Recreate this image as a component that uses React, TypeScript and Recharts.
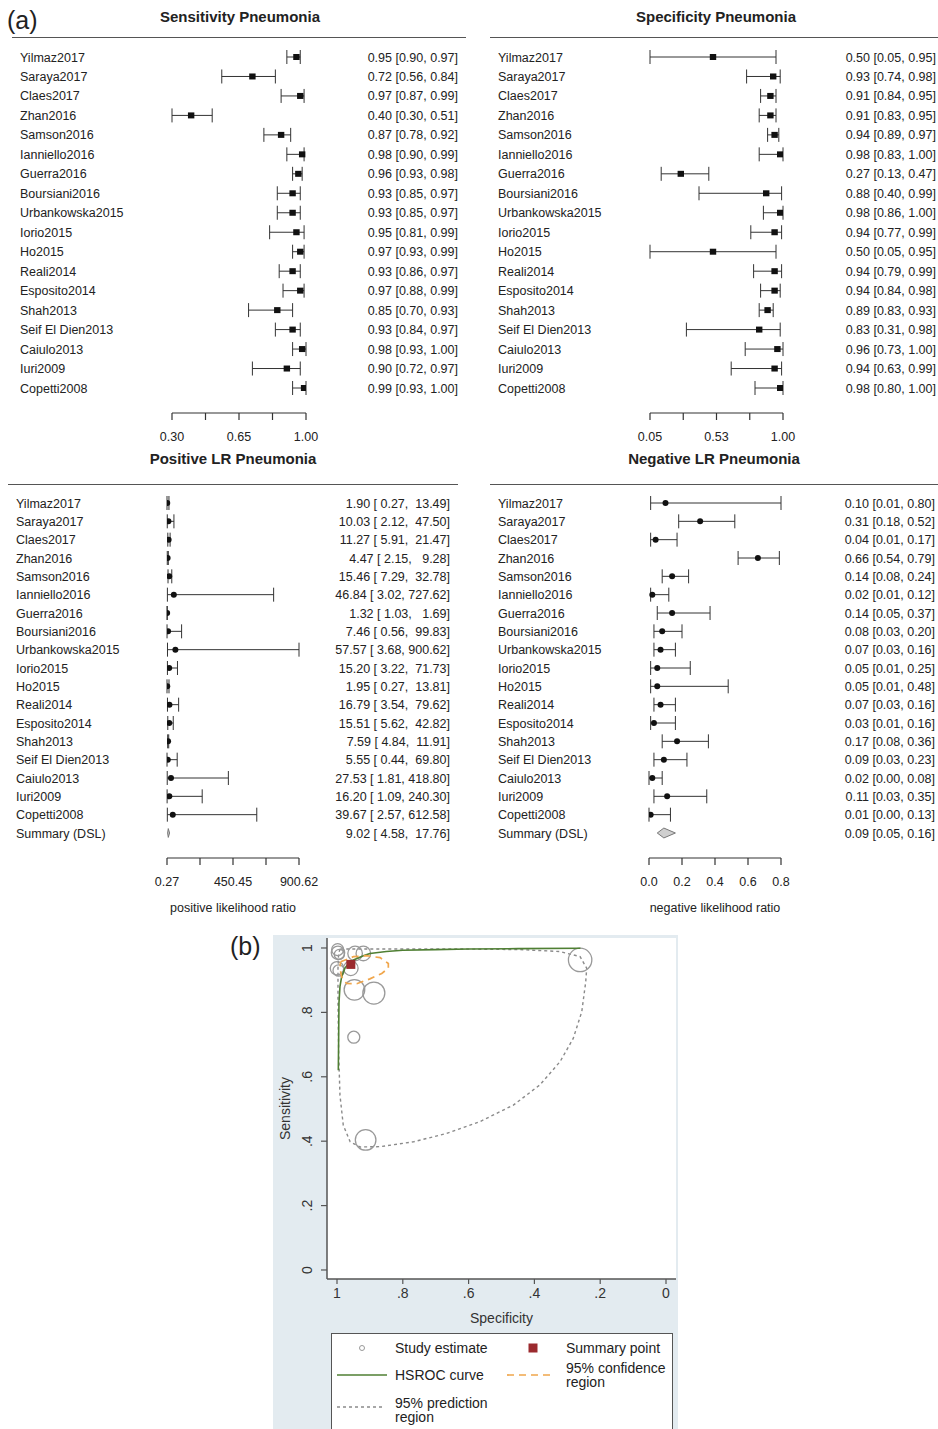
import React from 'react'
import { ScatterChart, Scatter, XAxis, YAxis, ZAxis, ErrorBar, CartesianGrid, Label } from 'recharts'

const FONT = '"Liberation Sans", Arial, Helvetica, sans-serif'
const INK = '#222'

// ---------- forest plots (panel a) ----------
const studies = [
  'Yilmaz2017', 'Saraya2017', 'Claes2017', 'Zhan2016', 'Samson2016', 'Ianniello2016',
  'Guerra2016', 'Boursiani2016', 'Urbankowska2015', 'Iorio2015', 'Ho2015', 'Reali2014',
  'Esposito2014', 'Shah2013', 'Seif El Dien2013', 'Caiulo2013', 'Iuri2009', 'Copetti2008',
]

const sensEst = [0.95, 0.72, 0.97, 0.40, 0.87, 0.98, 0.96, 0.93, 0.93, 0.95, 0.97, 0.93, 0.97, 0.85, 0.93, 0.98, 0.90, 0.99]
const sensLo = [0.90, 0.56, 0.87, 0.30, 0.78, 0.90, 0.93, 0.85, 0.85, 0.81, 0.93, 0.86, 0.88, 0.70, 0.84, 0.93, 0.72, 0.93]
const sensHi = [0.97, 0.84, 0.99, 0.51, 0.92, 0.99, 0.98, 0.97, 0.97, 0.99, 0.99, 0.97, 0.99, 0.93, 0.97, 1.00, 0.97, 1.00]

const specEst = [0.50, 0.93, 0.91, 0.91, 0.94, 0.98, 0.27, 0.88, 0.98, 0.94, 0.50, 0.94, 0.94, 0.89, 0.83, 0.96, 0.94, 0.98]
const specLo = [0.05, 0.74, 0.84, 0.83, 0.89, 0.83, 0.13, 0.40, 0.86, 0.77, 0.05, 0.79, 0.84, 0.83, 0.31, 0.73, 0.63, 0.80]
const specHi = [0.95, 0.98, 0.95, 0.95, 0.97, 1.00, 0.47, 0.99, 1.00, 0.99, 0.95, 0.99, 0.98, 0.93, 0.98, 1.00, 0.99, 1.00]

const posEst = [1.90, 10.03, 11.27, 4.47, 15.46, 46.84, 1.32, 7.46, 57.57, 15.20, 1.95, 16.79, 15.51, 7.59, 5.55, 27.53, 16.20, 39.67]
const posLo = [0.27, 2.12, 5.91, 2.15, 7.29, 3.02, 1.03, 0.56, 3.68, 3.22, 0.27, 3.54, 5.62, 4.84, 0.44, 1.81, 1.09, 2.57]
const posHi = [13.49, 47.50, 21.47, 9.28, 32.78, 727.62, 1.69, 99.83, 900.62, 71.73, 13.81, 79.62, 42.82, 11.91, 69.80, 418.80, 240.30, 612.58]
const posSummary = [9.02, 4.58, 17.76] // est, lo, hi

const negEst = [0.10, 0.31, 0.04, 0.66, 0.14, 0.02, 0.14, 0.08, 0.07, 0.05, 0.05, 0.07, 0.03, 0.17, 0.09, 0.02, 0.11, 0.01]
const negLo = [0.01, 0.18, 0.01, 0.54, 0.08, 0.01, 0.05, 0.03, 0.03, 0.01, 0.01, 0.03, 0.01, 0.08, 0.03, 0.00, 0.03, 0.00]
const negHi = [0.80, 0.52, 0.17, 0.79, 0.24, 0.12, 0.37, 0.20, 0.16, 0.25, 0.48, 0.16, 0.16, 0.36, 0.23, 0.08, 0.35, 0.13]
const negSummary = [0.09, 0.05, 0.16]

const summaryName = 'Summary (DSL)'

const sensTicks = [0.30, 0.475, 0.65, 0.825, 1.00]
const sensTickLabels = ['0.30', '', '0.65', '', '1.00']
const specTicks = [0.05, 0.2875, 0.525, 0.7625, 1.00]
const specTickLabels = ['0.05', '', '0.53', '', '1.00']
const posTicks = [0.27, 225.36, 450.45, 675.53, 900.62]
const posTickLabels = ['0.27', '', '450.45', '', '900.62']
const negTicks = [0, 0.2, 0.4, 0.6, 0.8]
const negTickLabels = ['0.0', '0.2', '0.4', '0.6', '0.8']

// ---------- SROC plot (panel b) ----------
const srocTicks = [0, 0.2, 0.4, 0.6, 0.8, 1]
const srocTickLabels = ['0', '.2', '.4', '.6', '.8', '1']

const studySpec = [0.998, 0.997, 0.993, 0.945, 0.92, 1.0, 0.995, 0.958, 0.947, 0.888, 0.949, 0.261, 0.913]
const studySens = [0.995, 0.985, 0.98, 0.983, 0.983, 0.937, 0.93, 0.937, 0.87, 0.86, 0.723, 0.963, 0.404]
const studyWeight = [36, 45, 25, 53, 53, 45, 32, 53, 106, 121, 36, 137, 106]

const summarySpec = [0.958]
const summarySens = [0.949]

const hsrocSpec = [0.996, 0.995, 0.994, 0.991, 0.986, 0.976, 0.962, 0.95, 0.92, 0.9, 0.85, 0.8, 0.7, 0.6, 0.45, 0.26]
const hsrocSens = [0.62, 0.72, 0.83, 0.88, 0.91, 0.937, 0.955, 0.963, 0.976, 0.983, 0.989, 0.993, 0.995, 0.997, 0.998, 0.999]

const confSpec = [0.989, 0.95, 0.91, 0.869, 0.844, 0.844, 0.864, 0.9, 0.94, 0.971, 0.986, 0.991, 0.989]
const confSens = [0.957, 0.973, 0.976, 0.97, 0.952, 0.937, 0.921, 0.904, 0.889, 0.89, 0.911, 0.937, 0.957]

const predSpec = [0.99, 0.849, 0.646, 0.444, 0.322, 0.261, 0.241, 0.244, 0.256, 0.282, 0.322, 0.383, 0.464, 0.565, 0.667, 0.768, 0.869, 0.93, 0.96, 0.981, 0.991, 0.995, 0.997, 0.997, 0.995, 0.99]
const predSens = [0.997, 0.997, 0.997, 0.995, 0.989, 0.973, 0.937, 0.895, 0.802, 0.719, 0.647, 0.575, 0.512, 0.461, 0.424, 0.398, 0.383, 0.382, 0.398, 0.45, 0.543, 0.678, 0.833, 0.937, 0.985, 0.997]

type Row = { row: number; est: number; err: [number, number] }

const toRows = (est: number[], lo: number[], hi: number[]): Row[] =>
  est.map((e, i) => ({ row: i, est: e, err: [e - lo[i], hi[i] - e] }))

// diamond outline for a pooled estimate, closed path through lo-est-hi
const diamond = (s: number[], row: number, half: number) => [
  { est: s[1], row },
  { est: s[0], row: row - half },
  { est: s[2], row },
  { est: s[0], row: row + half },
  { est: s[1], row },
]

const f2 = (v: number) => v.toFixed(2)
const ciPlain = (e: number, l: number, h: number) => `${f2(e)} [${f2(l)}, ${f2(h)}]`
const ciPadded = (e: number, l: number, h: number) => `${f2(e)} [${f2(l).padStart(5)}, ${f2(h).padStart(6)}]`

const zip = (xs: number[], ys: number[]) => xs.map((x, i) => ({ spec: x, sens: ys[i] }))

type ForestProps = {
  left: number; top: number; width: number; height: number
  plotLeft: number; plotRight: number; plotTop: number; plotBottom: number
  firstRowY: number; rowStep: number
  nameX: number; ciX: number
  names: string[]; ci: string[]
  rows: Row[]; summary?: { est: number; row: number }[]
  domain: [number, number]; ticks: number[]; tickLabels: string[]
  marker: 'square' | 'circle'
  xLabel?: string
}

function ForestPlot(p: ForestProps) {
  const yDomain: [number, number] = [(p.plotTop - p.firstRowY) / p.rowStep, (p.plotBottom - p.firstRowY) / p.rowStep]
  const rowTicks = p.names.map((_, i) => i)

  const RowTick = (t: any) => {
    const i = t.payload.value
    return (
      <g>
        <text x={p.nameX - p.left} y={t.y} dy={4.5} fontSize={12.5} fill={INK} fontFamily={FONT}>{p.names[i]}</text>
        <text x={p.ciX - p.left} y={t.y} dy={4.5} fontSize={12.5} fill={INK} fontFamily={FONT}
          textAnchor="end" xmlSpace="preserve" style={{ whiteSpace: 'pre' }}>{p.ci[i]}</text>
      </g>
    )
  }

  const markerShape = (s: any) =>
    p.marker === 'square'
      ? <rect x={s.cx - 3.2} y={s.cy - 3} width={6.4} height={6} fill="#111" />
      : <circle cx={s.cx} cy={s.cy} r={3} fill="#111" />

  return (
    <div style={{ position: 'absolute', left: p.left, top: p.top }}>
      <ScatterChart
        width={p.width}
        height={p.height}
        margin={{ top: p.plotTop - p.top, right: p.left + p.width - p.plotRight, bottom: 0, left: 0 }}
      >
        <XAxis
          type="number" dataKey="est" domain={p.domain} ticks={p.ticks} allowDataOverflow interval={0}
          height={p.top + p.height - p.plotBottom} tickSize={7} tickMargin={12}
          axisLine={{ stroke: '#333', strokeWidth: 1.2 }} tickLine={{ stroke: '#333', strokeWidth: 1.2 }}
          tick={{ fill: INK, fontSize: 12.5, fontFamily: FONT }}
          tickFormatter={(v: number) => p.tickLabels[p.ticks.indexOf(v)] ?? ''}
        >
          {p.xLabel && (
            <Label value={p.xLabel} position="insideBottom" offset={8}
              style={{ fill: INK, fontSize: 12.5, fontFamily: FONT }} />
          )}
        </XAxis>
        <YAxis
          type="number" dataKey="row" domain={yDomain} reversed ticks={rowTicks} interval={0} allowDataOverflow
          width={p.plotLeft - p.left} axisLine={false} tickLine={false} tick={RowTick}
        />
        <Scatter data={p.rows} fill="#111" shape={markerShape} isAnimationActive={false}>
          <ErrorBar dataKey="err" direction="x" width={7} stroke="#333" strokeWidth={1} />
        </Scatter>
        {p.summary && (
          <Scatter
            data={p.summary}
            line={{ stroke: '#777', strokeWidth: 1, fill: '#cfcfcf' }}
            lineType="joint"
            shape={() => <g />}
            isAnimationActive={false}
          />
        )}
      </ScatterChart>
    </div>
  )
}

const Title = ({ text, cx, cy }: { text: string; cx: number; cy: number }) => (
  <div style={{
    position: 'absolute', left: cx - 200, width: 400, top: cy - 10, lineHeight: '20px',
    textAlign: 'center', fontSize: 15, fontWeight: 700, color: INK,
  }}>{text}</div>
)

const Rule = ({ x1, x2, y }: { x1: number; x2: number; y: number }) => (
  <div style={{ position: 'absolute', left: x1, top: y - 1, width: x2 - x1, height: 0, borderTop: '1.5px solid #555' }} />
)

function RotTick(t: any) {
  const label = srocTickLabels[srocTicks.indexOf(t.payload.value)] ?? ''
  return (
    <text x={t.x} y={t.y} transform={`rotate(-90, ${t.x}, ${t.y})`} textAnchor="middle"
      fontSize={14} fill="#333" fontFamily={FONT}>{label}</text>
  )
}

function SrocPanel() {
  const L = 273, T = 935, W = 405, H = 494
  const studies = studySpec.map((s, i) => ({ spec: s, sens: studySens[i], w: studyWeight[i] }))
  return (
    <div style={{ position: 'absolute', left: L, top: T, width: W, height: H, background: '#e3ebf0' }}>
      <ScatterChart width={W} height={H} margin={{ top: 3, right: 2, left: 0, bottom: 100 }}>
        <CartesianGrid horizontal={false} vertical={false} fill="#ffffff" />
        <XAxis
          type="number" dataKey="spec" domain={[-0.0304, 1.0304]} reversed ticks={srocTicks} interval={0}
          allowDataOverflow height={50} tickSize={5} tickMargin={4}
          axisLine={{ stroke: '#555', strokeWidth: 1.5 }} tickLine={{ stroke: '#555', strokeWidth: 1.2 }}
          tick={{ fill: '#333', fontSize: 14, fontFamily: FONT }}
          tickFormatter={(v: number) => srocTickLabels[srocTicks.indexOf(v)] ?? ''}
        >
          <Label value="Specificity" position="insideBottom" offset={6}
            style={{ fill: '#333', fontSize: 14, fontFamily: FONT }} />
        </XAxis>
        <YAxis
          type="number" dataKey="sens" domain={[-0.028, 1.031]} ticks={srocTicks} interval={0}
          allowDataOverflow width={54} tickSize={6} tickMargin={9}
          axisLine={{ stroke: '#555', strokeWidth: 1.5 }} tickLine={{ stroke: '#555', strokeWidth: 1.2 }}
          tick={RotTick}
        >
          <Label value="Sensitivity" angle={-90} position="insideLeft" offset={12}
            style={{ fill: '#333', fontSize: 14, fontFamily: FONT, textAnchor: 'middle' }} />
        </YAxis>
        <ZAxis type="number" dataKey="w" domain={[0, 200]} range={[0, 628]} />
        <Scatter
          data={zip(predSpec, predSens)}
          line={{ stroke: '#8a8a8a', strokeWidth: 1.4, strokeDasharray: '3 3' }}
          lineType="joint" shape={() => <g />} isAnimationActive={false}
        />
        <Scatter data={studies} shape="circle" fill="none" stroke="#999" strokeWidth={1.3} isAnimationActive={false} />
        <Scatter
          data={zip(hsrocSpec, hsrocSens)}
          line={{ stroke: '#4f7f33', strokeWidth: 1.6 }}
          lineType="joint" shape={() => <g />} isAnimationActive={false}
        />
        <Scatter
          data={zip(confSpec, confSens)}
          line={{ stroke: '#f0a64c', strokeWidth: 1.7, strokeDasharray: '7 5' }}
          lineType="joint" shape={() => <g />} isAnimationActive={false}
        />
        <Scatter
          data={zip(summarySpec, summarySens)}
          shape={(s: any) => <rect x={s.cx - 4.5} y={s.cy - 4.5} width={9} height={9} fill="#9b2a2e" />}
          isAnimationActive={false}
        />
      </ScatterChart>
    </div>
  )
}

function SrocLegend() {
  const txt = { fontSize: 14, fill: '#222', fontFamily: FONT }
  return (
    <svg style={{ position: 'absolute', left: 331, top: 1333 }} width={342} height={110}>
      <rect x={0.5} y={0.5} width={341} height={120} fill="#fff" stroke="#555" strokeWidth={1} />
      <circle cx={31} cy={15} r={2.5} fill="none" stroke="#999" strokeWidth={1} />
      <text x={64} y={20} {...txt}>Study estimate</text>
      <rect x={197.5} y={10.5} width={9} height={9} fill="#9b2a2e" />
      <text x={235} y={20} {...txt}>Summary point</text>
      <line x1={6} x2={56} y1={42} y2={42} stroke="#4f7f33" strokeWidth={1.6} />
      <text x={64} y={47} {...txt}>HSROC curve</text>
      <line x1={176} x2={222} y1={42} y2={42} stroke="#f0a64c" strokeWidth={1.7} strokeDasharray="7 5" />
      <text x={235} y={40} {...txt}>95% confidence</text>
      <text x={235} y={54} {...txt}>region</text>
      <line x1={6} x2={54} y1={74} y2={74} stroke="#8a8a8a" strokeWidth={1.3} strokeDasharray="3 3" />
      <text x={64} y={75} {...txt}>95% prediction</text>
      <text x={64} y={89} {...txt}>region</text>
    </svg>
  )
}

export default function App() {
  const sensCi = sensEst.map((e, i) => ciPlain(e, sensLo[i], sensHi[i]))
  const specCi = specEst.map((e, i) => ciPlain(e, specLo[i], specHi[i]))
  const posCi = [...posEst.map((e, i) => ciPadded(e, posLo[i], posHi[i])), ciPadded(posSummary[0], posSummary[1], posSummary[2])]
  const negCi = [...negEst.map((e, i) => ciPlain(e, negLo[i], negHi[i])), ciPlain(negSummary[0], negSummary[1], negSummary[2])]
  const lrNames = [...studies, summaryName]
  const sumRow = studies.length

  const topRows = { firstRowY: 57, rowStep: (388 - 57) / 17, plotTop: 38, plotBottom: 413 }
  const lrRows = { firstRowY: 503, rowStep: (833 - 503) / 18, plotTop: 486, plotBottom: 858 }

  return (
    <div style={{
      position: 'absolute', left: 0, top: 0, width: 938, height: 1429, overflow: 'hidden',
      background: '#fff', fontFamily: FONT, color: INK,
    }}>
      <div style={{ position: 'absolute', left: 7, top: 5, fontSize: 25, lineHeight: '30px' }}>(a)</div>
      <Title text="Sensitivity Pneumonia" cx={240} cy={17} />
      <Title text="Specificity Pneumonia" cx={716} cy={17} />
      <Title text="Positive LR Pneumonia" cx={233} cy={459} />
      <Title text="Negative LR Pneumonia" cx={714} cy={459} />
      <Rule x1={12} x2={466} y={38} />
      <Rule x1={490} x2={938} y={38} />
      <Rule x1={8} x2={458} y={485} />
      <Rule x1={490} x2={938} y={485} />

      <ForestPlot
        left={0} top={0} width={470} height={450} plotLeft={172} plotRight={306} {...topRows}
        nameX={20} ciX={458} names={studies} ci={sensCi} rows={toRows(sensEst, sensLo, sensHi)}
        domain={[0.30, 1.00]} ticks={sensTicks} tickLabels={sensTickLabels} marker="square"
      />
      <ForestPlot
        left={480} top={0} width={458} height={450} plotLeft={650} plotRight={783} {...topRows}
        nameX={498} ciX={936} names={studies} ci={specCi} rows={toRows(specEst, specLo, specHi)}
        domain={[0.05, 1.00]} ticks={specTicks} tickLabels={specTickLabels} marker="square"
      />
      <ForestPlot
        left={0} top={470} width={470} height={450} plotLeft={167} plotRight={299} {...lrRows}
        nameX={16} ciX={450} names={lrNames} ci={posCi} rows={toRows(posEst, posLo, posHi)}
        summary={diamond(posSummary, sumRow, 0.24)}
        domain={[0.27, 900.62]} ticks={posTicks} tickLabels={posTickLabels} marker="circle"
        xLabel="positive likelihood ratio"
      />
      <ForestPlot
        left={480} top={470} width={458} height={450} plotLeft={649} plotRight={781} {...lrRows}
        nameX={498} ciX={935} names={lrNames} ci={negCi} rows={toRows(negEst, negLo, negHi)}
        summary={diamond(negSummary, sumRow, 0.27)}
        domain={[0, 0.8]} ticks={negTicks} tickLabels={negTickLabels} marker="circle"
        xLabel="negative likelihood ratio"
      />

      <SrocPanel />
      <SrocLegend />
      <div style={{ position: 'absolute', left: 230, top: 931, fontSize: 25, lineHeight: '30px' }}>(b)</div>
    </div>
  )
}
